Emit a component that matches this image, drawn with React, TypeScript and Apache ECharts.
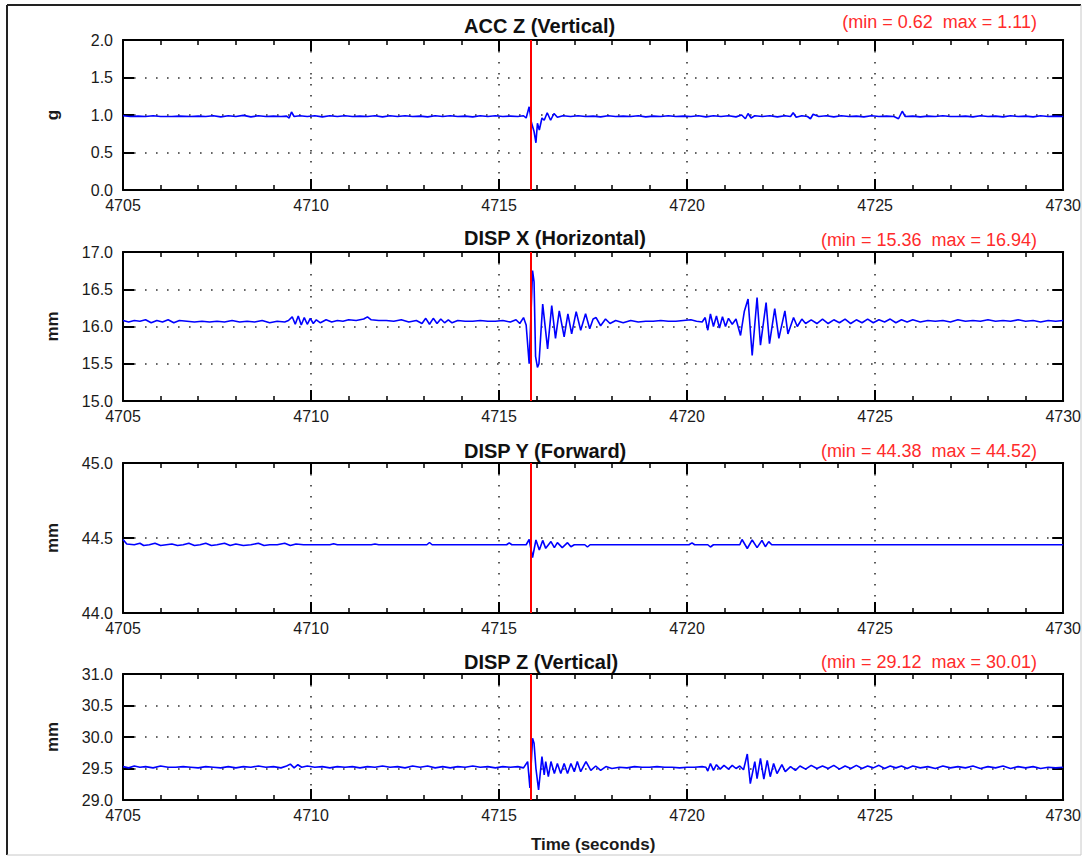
import React, { useEffect, useRef } from "react";
import * as echarts from "echarts";

const timeMin = 4705;
const timeMax = 4730;
const timeStep = 5;
const eventTime = 4715.85;

const panelTitles = ["ACC Z (Vertical)", "DISP X (Horizontal)", "DISP Y (Forward)", "DISP Z (Vertical)"];
const rangeNotes = [
  "(min = 0.62\u00a0\u00a0max = 1.11)",
  "(min = 15.36\u00a0\u00a0max = 16.94)",
  "(min = 44.38\u00a0\u00a0max = 44.52)",
  "(min = 29.12\u00a0\u00a0max = 30.01)",
];
const yUnits = ["g", "mm", "mm", "mm"];
const yMins = [0, 15, 44, 29];
const yMaxs = [2, 17, 45, 31];
const yStep = 0.5;
const xName = "Time (seconds)";

const accZ: number[][] = [
  [4705.0, 0.99], [4705.2, 0.98], [4705.4, 0.985], [4705.6, 0.98], [4705.8, 0.99], [4706.0, 0.98], [4706.3, 0.98],
  [4706.5, 0.985], [4706.8, 0.98], [4707.0, 0.985], [4707.2, 0.98], [4707.4, 0.99], [4707.6, 0.975], [4707.8, 0.99],
  [4708.0, 0.98], [4708.2, 0.995], [4708.4, 0.975], [4708.6, 0.99], [4708.8, 0.98], [4709.0, 0.985], [4709.2, 0.98],
  [4709.35, 0.985], [4709.42, 0.96], [4709.48, 1.04], [4709.55, 0.98], [4709.7, 0.99], [4709.9, 0.98], [4710.1, 0.99],
  [4710.3, 0.975], [4710.5, 0.99], [4710.7, 0.98], [4710.9, 0.99], [4711.1, 0.98], [4711.3, 0.985], [4711.5, 0.98],
  [4711.7, 0.99], [4711.9, 0.975], [4712.1, 0.99], [4712.3, 0.98], [4712.5, 0.99], [4712.7, 0.98], [4712.9, 0.985],
  [4713.1, 0.975], [4713.3, 0.99], [4713.5, 0.98], [4713.7, 0.99], [4713.9, 0.98], [4714.1, 0.985], [4714.3, 0.975],
  [4714.5, 0.99], [4714.7, 0.98], [4714.9, 0.99], [4715.1, 0.98], [4715.3, 0.985], [4715.5, 0.98], [4715.65, 0.99],
  [4715.72, 0.96], [4715.8, 1.11], [4715.86, 0.9], [4715.93, 0.78], [4715.98, 0.63], [4716.02, 0.89], [4716.07, 0.8],
  [4716.14, 0.96], [4716.2, 0.93], [4716.28, 1.03], [4716.37, 0.93], [4716.46, 1.02], [4716.55, 0.97], [4716.7, 0.99],
  [4716.9, 0.98], [4717.1, 0.99], [4717.3, 0.98], [4717.5, 0.985], [4717.7, 0.975], [4717.9, 0.99], [4718.1, 0.98],
  [4718.3, 0.985], [4718.5, 0.98], [4718.7, 0.99], [4718.9, 0.975], [4719.1, 0.985], [4719.3, 0.98], [4719.5, 0.99],
  [4719.7, 0.98], [4719.9, 0.985], [4720.1, 0.98], [4720.3, 0.99], [4720.5, 0.975], [4720.7, 0.99], [4720.9, 0.98],
  [4721.1, 0.99], [4721.3, 0.975], [4721.45, 1.0], [4721.55, 0.95], [4721.62, 1.02], [4721.7, 0.96], [4721.8, 0.99],
  [4722.0, 0.98], [4722.2, 0.99], [4722.4, 0.975], [4722.6, 0.99], [4722.75, 0.98], [4722.82, 1.03], [4722.9, 0.97],
  [4723.05, 0.99], [4723.2, 0.98], [4723.28, 0.95], [4723.35, 1.01], [4723.5, 0.98], [4723.7, 0.99], [4723.9, 0.975],
  [4724.1, 0.99], [4724.3, 0.98], [4724.5, 0.985], [4724.7, 0.975], [4724.9, 0.99], [4725.1, 0.98], [4725.3, 0.985],
  [4725.5, 0.98], [4725.62, 0.95], [4725.72, 1.05], [4725.8, 0.98], [4726.0, 0.985], [4726.2, 0.975], [4726.4, 0.985],
  [4726.6, 0.98], [4726.8, 0.99], [4727.0, 0.98], [4727.2, 0.98], [4727.4, 0.985], [4727.6, 0.975], [4727.8, 0.99],
  [4728.0, 0.98], [4728.2, 0.985], [4728.4, 0.975], [4728.6, 0.99], [4728.8, 0.98], [4729.0, 0.985], [4729.2, 0.975],
  [4729.4, 0.99], [4729.6, 0.98], [4729.8, 0.985], [4730.0, 0.98],
];

const dispX: number[][] = [
  [4705.0, 16.08], [4705.15, 16.06], [4705.3, 16.08], [4705.45, 16.07], [4705.6, 16.09], [4705.75, 16.05], [4705.9, 16.08],
  [4706.05, 16.06], [4706.2, 16.09], [4706.35, 16.05], [4706.5, 16.08], [4706.7, 16.07], [4706.9, 16.06], [4707.1, 16.07],
  [4707.3, 16.06], [4707.5, 16.07], [4707.7, 16.06], [4707.9, 16.08], [4708.1, 16.06], [4708.3, 16.07], [4708.5, 16.06],
  [4708.7, 16.08], [4708.9, 16.05], [4709.1, 16.07], [4709.3, 16.06], [4709.4, 16.08], [4709.5, 16.13], [4709.58, 16.03],
  [4709.66, 16.14], [4709.74, 16.02], [4709.82, 16.12], [4709.9, 16.03], [4709.98, 16.11], [4710.06, 16.04], [4710.14, 16.09],
  [4710.25, 16.05], [4710.4, 16.09], [4710.55, 16.06], [4710.7, 16.08], [4710.85, 16.07], [4711.0, 16.09], [4711.2, 16.08],
  [4711.4, 16.1], [4711.5, 16.13], [4711.6, 16.09], [4711.8, 16.08], [4712.0, 16.08], [4712.2, 16.07], [4712.4, 16.09],
  [4712.6, 16.06], [4712.8, 16.08], [4712.95, 16.04], [4713.05, 16.11], [4713.15, 16.03], [4713.25, 16.11], [4713.35, 16.04],
  [4713.45, 16.1], [4713.55, 16.05], [4713.65, 16.09], [4713.75, 16.05], [4713.9, 16.08], [4714.1, 16.07], [4714.3, 16.07],
  [4714.5, 16.08], [4714.7, 16.07], [4714.9, 16.07], [4715.1, 16.08], [4715.3, 16.06], [4715.45, 16.09], [4715.55, 16.04],
  [4715.65, 16.12], [4715.72, 16.02], [4715.8, 15.5], [4715.89, 16.75], [4715.93, 16.6], [4715.97, 15.6], [4716.02, 15.45],
  [4716.06, 15.5], [4716.16, 16.3], [4716.29, 15.7], [4716.4, 16.28], [4716.5, 15.84], [4716.6, 16.21], [4716.73, 15.86],
  [4716.83, 16.17], [4716.93, 15.9], [4717.05, 16.2], [4717.17, 15.95], [4717.3, 16.17], [4717.41, 15.97], [4717.5, 16.1],
  [4717.58, 16.12], [4717.7, 16.01], [4717.83, 16.1], [4717.95, 16.04], [4718.1, 16.08], [4718.3, 16.05], [4718.5, 16.08],
  [4718.7, 16.06], [4718.9, 16.07], [4719.1, 16.07], [4719.3, 16.08], [4719.5, 16.07], [4719.7, 16.07], [4719.9, 16.08],
  [4720.1, 16.09], [4720.25, 16.07], [4720.4, 16.06], [4720.48, 16.12], [4720.55, 15.95], [4720.62, 16.17], [4720.7, 16.0],
  [4720.78, 16.14], [4720.86, 15.98], [4720.94, 16.13], [4721.02, 16.0], [4721.1, 16.11], [4721.2, 16.03], [4721.3, 16.1],
  [4721.42, 15.88], [4721.52, 16.2], [4721.62, 16.37], [4721.73, 15.61], [4721.86, 16.39], [4721.95, 15.75], [4722.1, 16.32],
  [4722.19, 15.77], [4722.33, 16.24], [4722.44, 15.84], [4722.6, 16.21], [4722.68, 15.9], [4722.83, 16.12], [4722.93, 16.0],
  [4723.05, 16.1], [4723.15, 16.04], [4723.3, 16.09], [4723.45, 16.04], [4723.6, 16.1], [4723.75, 16.04], [4723.9, 16.09],
  [4724.05, 16.05], [4724.2, 16.1], [4724.35, 16.04], [4724.5, 16.09], [4724.65, 16.05], [4724.8, 16.1], [4724.95, 16.05],
  [4725.1, 16.09], [4725.25, 16.06], [4725.4, 16.1], [4725.55, 16.05], [4725.7, 16.09], [4725.85, 16.06], [4726.0, 16.09],
  [4726.2, 16.06], [4726.4, 16.08], [4726.6, 16.07], [4726.8, 16.08], [4727.0, 16.06], [4727.2, 16.09], [4727.4, 16.07],
  [4727.6, 16.08], [4727.8, 16.07], [4728.0, 16.09], [4728.2, 16.07], [4728.4, 16.08], [4728.6, 16.07], [4728.8, 16.09],
  [4729.0, 16.07], [4729.2, 16.08], [4729.4, 16.06], [4729.6, 16.08], [4729.8, 16.07], [4730.0, 16.08],
];

const dispY: number[][] = [
  [4705.0, 44.49], [4705.1, 44.46], [4705.3, 44.455], [4705.45, 44.465], [4705.55, 44.45], [4705.7, 44.455], [4705.85, 44.465],
  [4706.0, 44.45], [4706.15, 44.455], [4706.3, 44.46], [4706.45, 44.45], [4706.6, 44.455], [4706.75, 44.465], [4706.9, 44.45],
  [4707.05, 44.455], [4707.2, 44.465], [4707.35, 44.45], [4707.5, 44.455], [4707.7, 44.465], [4707.85, 44.45], [4708.0, 44.46],
  [4708.2, 44.45], [4708.4, 44.455], [4708.6, 44.465], [4708.75, 44.45], [4708.9, 44.455], [4709.1, 44.455], [4709.3, 44.465],
  [4709.45, 44.45], [4709.6, 44.46], [4709.8, 44.455], [4710.0, 44.455], [4710.5, 44.455], [4710.6, 44.462], [4710.7, 44.455],
  [4711.6, 44.455], [4711.7, 44.46], [4711.8, 44.455], [4713.08, 44.455], [4713.15, 44.47], [4713.22, 44.455], [4715.2, 44.455],
  [4715.27, 44.468], [4715.34, 44.455], [4715.72, 44.455], [4715.8, 44.49], [4715.89, 44.37], [4715.98, 44.487], [4716.07, 44.42],
  [4716.16, 44.484], [4716.24, 44.431], [4716.38, 44.476], [4716.47, 44.436], [4716.55, 44.469], [4716.68, 44.436],
  [4716.82, 44.469], [4716.91, 44.442], [4717.0, 44.455], [4717.28, 44.455], [4717.35, 44.44], [4717.42, 44.455],
  [4720.05, 44.455], [4720.13, 44.468], [4720.2, 44.455], [4720.55, 44.455], [4720.62, 44.44], [4720.7, 44.455],
  [4721.4, 44.455], [4721.46, 44.49], [4721.6, 44.43], [4721.73, 44.487], [4721.86, 44.436], [4721.99, 44.484],
  [4722.08, 44.442], [4722.17, 44.476], [4722.25, 44.455], [4730.0, 44.455],
];

const dispZ: number[][] = [
  [4705.0, 29.53], [4705.15, 29.51], [4705.3, 29.54], [4705.45, 29.52], [4705.6, 29.53], [4705.8, 29.51], [4706.0, 29.54],
  [4706.2, 29.52], [4706.4, 29.52], [4706.6, 29.53], [4706.8, 29.52], [4707.0, 29.51], [4707.2, 29.53], [4707.4, 29.52],
  [4707.6, 29.51], [4707.8, 29.53], [4708.0, 29.51], [4708.2, 29.53], [4708.4, 29.52], [4708.6, 29.54], [4708.8, 29.52],
  [4709.0, 29.53], [4709.2, 29.51], [4709.35, 29.54], [4709.45, 29.57], [4709.55, 29.51], [4709.65, 29.56], [4709.75, 29.52],
  [4709.9, 29.54], [4710.1, 29.52], [4710.3, 29.53], [4710.5, 29.51], [4710.7, 29.53], [4710.9, 29.52], [4711.1, 29.53],
  [4711.3, 29.51], [4711.5, 29.53], [4711.7, 29.52], [4711.9, 29.54], [4712.1, 29.52], [4712.3, 29.53], [4712.5, 29.51],
  [4712.7, 29.54], [4712.9, 29.52], [4713.1, 29.54], [4713.3, 29.51], [4713.5, 29.53], [4713.7, 29.51], [4713.9, 29.53],
  [4714.1, 29.52], [4714.3, 29.54], [4714.5, 29.52], [4714.7, 29.53], [4714.9, 29.51], [4715.1, 29.53], [4715.3, 29.52],
  [4715.5, 29.53], [4715.65, 29.51], [4715.76, 29.61], [4715.82, 29.19], [4715.89, 29.98], [4715.93, 29.9], [4715.98, 29.5],
  [4716.05, 29.16], [4716.14, 29.69], [4716.2, 29.4], [4716.24, 29.61], [4716.31, 29.37], [4716.38, 29.61], [4716.47, 29.42],
  [4716.55, 29.58], [4716.64, 29.42], [4716.73, 29.58], [4716.82, 29.42], [4716.91, 29.58], [4717.0, 29.45], [4717.08, 29.61],
  [4717.17, 29.45], [4717.31, 29.61], [4717.44, 29.47], [4717.57, 29.54], [4717.7, 29.47], [4717.84, 29.53], [4718.0, 29.5],
  [4718.2, 29.52], [4718.4, 29.51], [4718.6, 29.53], [4718.8, 29.52], [4719.0, 29.52], [4719.2, 29.53], [4719.4, 29.52],
  [4719.6, 29.52], [4719.8, 29.51], [4720.0, 29.52], [4720.2, 29.52], [4720.4, 29.53], [4720.5, 29.52], [4720.55, 29.46],
  [4720.62, 29.58], [4720.7, 29.47], [4720.78, 29.56], [4720.88, 29.49], [4720.98, 29.55], [4721.1, 29.49], [4721.2, 29.55],
  [4721.3, 29.5], [4721.4, 29.54], [4721.5, 29.48], [4721.6, 29.73], [4721.68, 29.26], [4721.8, 29.61], [4721.86, 29.34],
  [4721.95, 29.66], [4722.04, 29.33], [4722.13, 29.63], [4722.21, 29.37], [4722.3, 29.58], [4722.39, 29.42], [4722.52, 29.56],
  [4722.61, 29.45], [4722.75, 29.53], [4722.88, 29.47], [4723.0, 29.54], [4723.15, 29.49], [4723.3, 29.55], [4723.45, 29.5],
  [4723.6, 29.54], [4723.75, 29.5], [4723.9, 29.55], [4724.05, 29.49], [4724.2, 29.54], [4724.35, 29.5], [4724.5, 29.55],
  [4724.65, 29.5], [4724.8, 29.54], [4724.95, 29.51], [4725.1, 29.55], [4725.25, 29.5], [4725.4, 29.54], [4725.55, 29.51],
  [4725.7, 29.54], [4725.85, 29.5], [4726.0, 29.54], [4726.2, 29.51], [4726.4, 29.53], [4726.6, 29.5], [4726.8, 29.54],
  [4727.0, 29.51], [4727.2, 29.53], [4727.4, 29.51], [4727.6, 29.54], [4727.8, 29.5], [4728.0, 29.53], [4728.2, 29.51],
  [4728.4, 29.54], [4728.6, 29.5], [4728.8, 29.53], [4729.0, 29.51], [4729.2, 29.53], [4729.4, 29.5], [4729.6, 29.52],
  [4729.8, 29.51], [4730.0, 29.52],
];

const seriesData = [accZ, dispX, dispY, dispZ];

const FONT = "'Liberation Sans', Arial, sans-serif";

export default function App() {
  const ref = useRef<HTMLDivElement>(null);

  useEffect(() => {
    if (!ref.current) return;
    const chart = echarts.init(ref.current, null, { renderer: "svg" });

    const gridTops = [40, 252, 463, 674];
    const gridHeights = [150, 149, 150, 126];
    const titleTops = [16, 228, 441, 652];
    const noteTops = [13, 231, 442, 653];
    const left = 123;
    const width = 942;

    const grids: any[] = [];
    const xAxes: any[] = [];
    const yAxes: any[] = [];
    const series: any[] = [];
    const titles: any[] = [];

    const axisLine = { show: true, onZero: false, lineStyle: { color: "#000", width: 2 } };
    const dotted = { show: true, lineStyle: { color: "#333", width: 1.6, type: [1.6, 9.4] } };
    const majorTick = { show: true, inside: true, length: 11, lineStyle: { color: "#000", width: 2 } };
    const minorTick = { show: true, splitNumber: 5, length: 5, lineStyle: { color: "#000", width: 1.5 } };

    for (let i = 0; i < 4; i++) {
      grids.push({ left, top: gridTops[i], width, height: gridHeights[i], containLabel: false });
      const last = i === 3;
      xAxes.push({
        type: "value",
        gridIndex: i,
        position: "bottom",
        min: timeMin,
        max: timeMax,
        interval: timeStep,
        axisLine,
        axisTick: majorTick,
        minorTick,
        axisLabel: {
          show: true,
          margin: 7,
          fontSize: 16,
          color: "#1a1a1a",
          fontFamily: FONT,
          formatter: (v: number) => String(v),
        },
        splitLine: dotted,
        name: last ? xName : "",
        nameLocation: "middle",
        nameGap: 36,
        nameTextStyle: { fontSize: 17, fontWeight: "bold", color: "#1a1a1a", fontFamily: FONT },
      });
      xAxes.push({
        type: "value",
        gridIndex: i,
        position: "top",
        min: timeMin,
        max: timeMax,
        interval: timeStep,
        axisLine,
        axisTick: majorTick,
        minorTick,
        axisLabel: { show: false },
        splitLine: { show: false },
      });
      yAxes.push({
        type: "value",
        gridIndex: i,
        position: "left",
        min: yMins[i],
        max: yMaxs[i],
        interval: yStep,
        axisLine,
        axisTick: majorTick,
        axisLabel: {
          show: true,
          margin: 10,
          fontSize: 16,
          color: "#1a1a1a",
          fontFamily: FONT,
          formatter: (v: number) => v.toFixed(1),
        },
        splitLine: dotted,
        name: yUnits[i],
        nameLocation: "middle",
        nameRotate: 90,
        nameGap: 62,
        nameTextStyle: { fontSize: 17, fontWeight: "bold", color: "#1a1a1a", fontFamily: FONT },
      });
      yAxes.push({
        type: "value",
        gridIndex: i,
        position: "right",
        min: yMins[i],
        max: yMaxs[i],
        interval: yStep,
        axisLine,
        axisTick: majorTick,
        axisLabel: { show: false },
        splitLine: { show: false },
      });
      series.push({
        type: "line",
        xAxisIndex: i * 2,
        yAxisIndex: i * 2,
        data: seriesData[i],
        symbol: "none",
        lineStyle: { color: "#0000ff", width: 1.6 },
        z: 3,
        markLine: {
          silent: true,
          symbol: "none",
          label: { show: false },
          lineStyle: { color: "#ff0000", width: 2, type: "solid" },
          data: [{ xAxis: eventTime }],
          z: 4,
        },
      });
      titles.push({
        text: panelTitles[i],
        left: 464,
        top: titleTops[i],
        padding: 0,
        textStyle: { fontSize: 20, fontWeight: "bold", color: "#111", fontFamily: FONT },
      });
      titles.push({
        text: rangeNotes[i],
        right: 47,
        top: noteTops[i],
        padding: 0,
        textStyle: { fontSize: 18, fontWeight: "normal", color: "#ff2b2b", fontFamily: FONT },
      });
    }

    chart.setOption({
      animation: false,
      backgroundColor: "#ffffff",
      title: titles,
      grid: grids,
      xAxis: xAxes,
      yAxis: yAxes,
      series,
      graphic: [
        { type: "line", shape: { x1: 7, y1: 5, x2: 1081, y2: 5 }, style: { stroke: "#222", lineWidth: 2 } },
        { type: "line", shape: { x1: 7, y1: 5, x2: 7, y2: 855 }, style: { stroke: "#222", lineWidth: 2 } },
        { type: "line", shape: { x1: 7, y1: 855, x2: 1081, y2: 855 }, style: { stroke: "#c8c8c8", lineWidth: 1 } },
        { type: "line", shape: { x1: 1081, y1: 5, x2: 1081, y2: 855 }, style: { stroke: "#c8c8c8", lineWidth: 1 } },
      ],
    });

    return () => chart.dispose();
  }, []);

  return (
    <div
      ref={ref}
      style={{ position: "absolute", left: 0, top: 0, width: 1084, height: 858, background: "#fff" }}
    />
  );
}
